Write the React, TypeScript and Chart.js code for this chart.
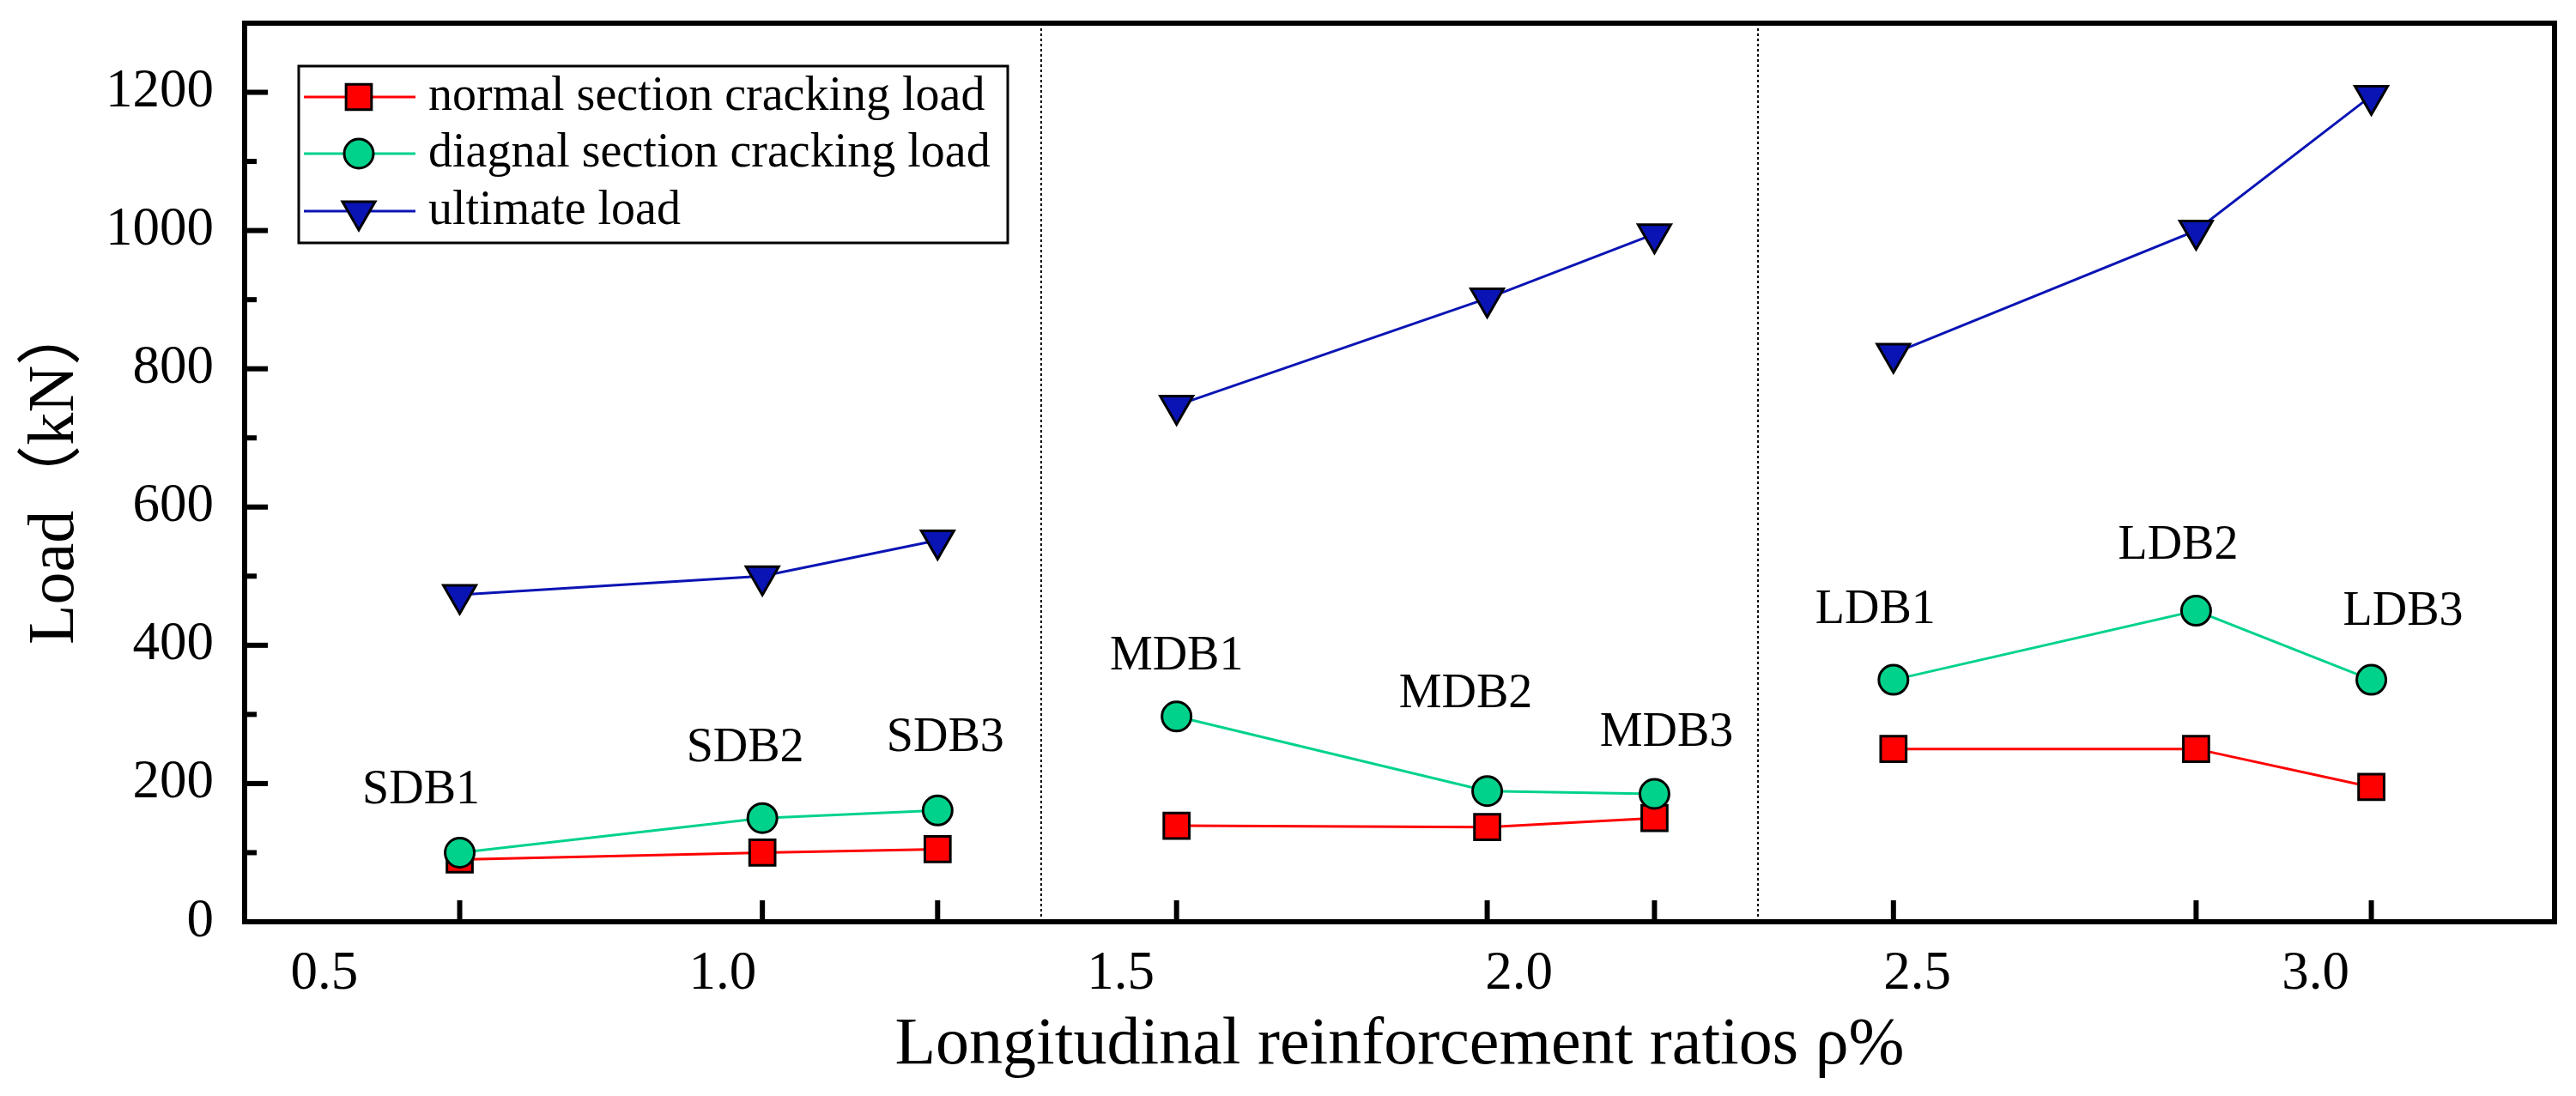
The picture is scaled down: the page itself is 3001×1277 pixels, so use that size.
import React, { useEffect, useRef } from 'react';
import { Chart, registerables } from 'chart.js';
import { drawPoint } from 'chart.js/helpers';

Chart.register(...registerables);

// specimens, in order of reinforcement ratio
const specimens = ['SDB1', 'SDB2', 'SDB3', 'MDB1', 'MDB2', 'MDB3', 'LDB1', 'LDB2', 'LDB3'];
const groups = ['S', 'S', 'S', 'M', 'M', 'M', 'L', 'L', 'L'];
const ratios = [0.67, 1.05, 1.27, 1.57, 1.96, 2.17, 2.47, 2.85, 3.07];

// loads in kN
const normalCracking = [90, 100, 105, 139, 137, 150, 250, 250, 195];
const diagonalCracking = [100, 150, 161, 297, 189, 185, 350, 450, 350];
const ultimateLoad = [473, 500, 552, 747, 902, 995, 822, 1000, 1195];

const xTickValues = [0.5, 1.0, 1.5, 2.0, 2.5, 3.0];
const yTickValues = [0, 200, 400, 600, 800, 1000, 1200];
const groupDividers = [1.4, 2.3];

// pixel offset of each specimen name from its diagonal-cracking point
const labelOffsets = [
  [-45, -72], [-20, -81], [9, -84],
  [0, -70], [-25, -112], [14, -71],
  [-21, -81], [-21, -75], [37, -79],
];

const SERIF = "'Liberation Serif', 'Times New Roman', 'Noto Sans CJK SC', serif";

const toPoints = (values: number[]) => ratios.map((x, i) => ({ x, y: values[i] }));

// no line between the three specimen groups
const groupSegment = (color: string) => ({
  borderColor: (c: any) =>
    groups[c.p0DataIndex] === groups[c.p1DataIndex] ? color : 'rgba(0,0,0,0)',
});

const framePlugin = {
  id: 'originFrame',
  beforeDatasetsDraw(chart: any) {
    const { ctx, chartArea, scales } = chart;
    ctx.save();
    ctx.strokeStyle = '#000';
    ctx.lineWidth = 2;
    ctx.setLineDash([3, 3]);
    groupDividers.forEach((v) => {
      const px = scales.x.getPixelForValue(v);
      ctx.beginPath();
      ctx.moveTo(px, chartArea.top);
      ctx.lineTo(px, chartArea.bottom);
      ctx.stroke();
    });
    ctx.restore();
  },
  afterDraw(chart: any) {
    const { ctx, chartArea, scales } = chart;
    const { left, right, top, bottom } = chartArea;
    ctx.save();
    ctx.strokeStyle = '#000';
    ctx.lineWidth = 6;
    ctx.setLineDash([]);
    // inward y ticks, major and minor
    const yt = scales.y.ticks.map((t: any) => t.value);
    yt.forEach((v: number, i: number) => {
      const py = scales.y.getPixelForValue(v);
      ctx.beginPath();
      ctx.moveTo(left, py);
      ctx.lineTo(left + 27, py);
      ctx.stroke();
      if (i < yt.length - 1) {
        const pm = scales.y.getPixelForValue((v + yt[i + 1]) / 2);
        ctx.beginPath();
        ctx.moveTo(left, pm);
        ctx.lineTo(left + 14, pm);
        ctx.stroke();
      }
    });
    // inward x ticks at the specimens
    ratios.forEach((v) => {
      const px = scales.x.getPixelForValue(v);
      ctx.beginPath();
      ctx.moveTo(px, bottom);
      ctx.lineTo(px, bottom - 25);
      ctx.stroke();
    });
    ctx.strokeRect(left, top, right - left, bottom - top);
    ctx.restore();
  },
};

const specimenLabelPlugin = {
  id: 'specimenLabels',
  afterDatasetsDraw(chart: any) {
    const { ctx } = chart;
    const meta = chart.getDatasetMeta(1);
    ctx.save();
    ctx.font = `56px ${SERIF}`;
    ctx.fillStyle = '#000';
    ctx.textAlign = 'center';
    ctx.textBaseline = 'middle';
    specimens.forEach((name, i) => {
      const pt = meta.data[i];
      ctx.fillText(name, pt.x + labelOffsets[i][0], pt.y + labelOffsets[i][1]);
    });
    ctx.restore();
  },
};

const boxLegendPlugin = {
  id: 'boxLegend',
  afterDraw(chart: any) {
    const { ctx, chartArea } = chart;
    const bx = chartArea.left + 63;
    const by = chartArea.top + 50;
    const rows = [36, 102, 169];
    ctx.save();
    ctx.setLineDash([]);
    ctx.lineWidth = 3;
    ctx.strokeStyle = '#000';
    ctx.strokeRect(bx, by, 826, 206);
    chart.data.datasets.forEach((ds: any, i: number) => {
      const y = by + rows[i];
      ctx.strokeStyle = ds.borderColor;
      ctx.lineWidth = ds.borderWidth;
      ctx.beginPath();
      ctx.moveTo(bx + 6, y);
      ctx.lineTo(bx + 136, y);
      ctx.stroke();
      ctx.fillStyle = ds.pointBackgroundColor;
      ctx.strokeStyle = ds.pointBorderColor;
      ctx.lineWidth = ds.pointBorderWidth;
      drawPoint(
        ctx,
        {
          pointStyle: ds.pointStyle,
          radius: ds.pointRadius,
          rotation: ds.pointRotation || 0,
          borderWidth: ds.pointBorderWidth,
        } as any,
        bx + 70,
        y
      );
      ctx.fillStyle = '#000';
      ctx.font = `56px ${SERIF}`;
      ctx.textAlign = 'left';
      ctx.textBaseline = 'middle';
      ctx.fillText(ds.label, bx + 151, y);
    });
    ctx.restore();
  },
};

const LoadRatioChart: React.FC = () => {
  const canvasRef = useRef<HTMLCanvasElement | null>(null);
  const chartRef = useRef<Chart | null>(null);

  useEffect(() => {
    if (!canvasRef.current) return;
    if (chartRef.current) chartRef.current.destroy();

    chartRef.current = new Chart(canvasRef.current, {
      type: 'line',
      data: {
        datasets: [
          {
            label: 'normal section cracking load',
            data: toPoints(normalCracking),
            borderColor: '#FF0000',
            borderWidth: 3,
            segment: groupSegment('#FF0000'),
            pointStyle: 'rect',
            pointRadius: 21,
            pointBackgroundColor: '#FF0000',
            pointBorderColor: '#000',
            pointBorderWidth: 3,
            order: 2,
          },
          {
            label: 'diagnal section cracking load',
            data: toPoints(diagonalCracking),
            borderColor: '#00D28C',
            borderWidth: 3,
            segment: groupSegment('#00D28C'),
            pointStyle: 'circle',
            pointRadius: 17,
            pointBackgroundColor: '#00D28C',
            pointBorderColor: '#000',
            pointBorderWidth: 3,
            order: 1,
          },
          {
            label: 'ultimate load',
            data: toPoints(ultimateLoad),
            borderColor: '#0A14B4',
            borderWidth: 3,
            segment: groupSegment('#0A14B4'),
            pointStyle: 'triangle',
            pointRotation: 180,
            pointRadius: 22,
            pointBackgroundColor: '#0A14B4',
            pointBorderColor: '#000',
            pointBorderWidth: 3,
            order: 0,
          },
        ] as any,
      },
      options: {
        animation: false,
        responsive: false,
        devicePixelRatio: 1,
        layout: { padding: { top: 27, right: 24, left: 0, bottom: 0 } },
        plugins: {
          legend: { display: false },
          tooltip: { enabled: false },
        },
        scales: {
          x: {
            type: 'linear',
            min: 0.4,
            max: 3.3,
            afterBuildTicks: (axis: any) => {
              axis.ticks = xTickValues.map((value) => ({ value }));
            },
            afterFit: (scale: any) => {
              scale.height = 203;
              scale.paddingLeft = 0;
              scale.paddingRight = 0;
            },
            grid: { display: false, drawTicks: false },
            border: { display: false },
            ticks: {
              callback: (v: any) => Number(v).toFixed(1),
              font: { family: SERIF, size: 63 },
              color: '#000',
              padding: 24,
              maxRotation: 0,
              autoSkip: false,
            },
            title: {
              display: true,
              text: 'Longitudinal reinforcement ratios ρ%',
              font: { family: SERIF, size: 78, lineHeight: 1 },
              color: '#000',
              padding: { top: 0, bottom: 19 },
            },
          },
          y: {
            type: 'linear',
            min: 0,
            max: 1300,
            afterBuildTicks: (axis: any) => {
              axis.ticks = yTickValues.map((value) => ({ value }));
            },
            afterFit: (scale: any) => {
              scale.width = 285;
              scale.paddingTop = 0;
              scale.paddingBottom = 0;
            },
            grid: { display: false, drawTicks: false },
            border: { display: false },
            ticks: {
              callback: (v: any) => String(v),
              font: { family: SERIF, size: 63 },
              color: '#000',
              padding: 36,
            },
            title: {
              display: true,
              text: 'Load（kN）',
              font: { family: SERIF, size: 76, lineHeight: 1 },
              color: '#000',
              padding: { top: 27, bottom: 0 },
            },
          },
        },
      } as any,
      plugins: [framePlugin, specimenLabelPlugin, boxLegendPlugin],
    });

    return () => {
      if (chartRef.current) {
        chartRef.current.destroy();
        chartRef.current = null;
      }
    };
  }, []);

  return (
    <div style={{ position: 'fixed', left: 0, top: 0, width: 3001, height: 1277, background: '#fff' }}>
      <canvas ref={canvasRef} width={3001} height={1277} style={{ display: 'block' }} />
    </div>
  );
};

export default function App() {
  return <LoadRatioChart />;
}
